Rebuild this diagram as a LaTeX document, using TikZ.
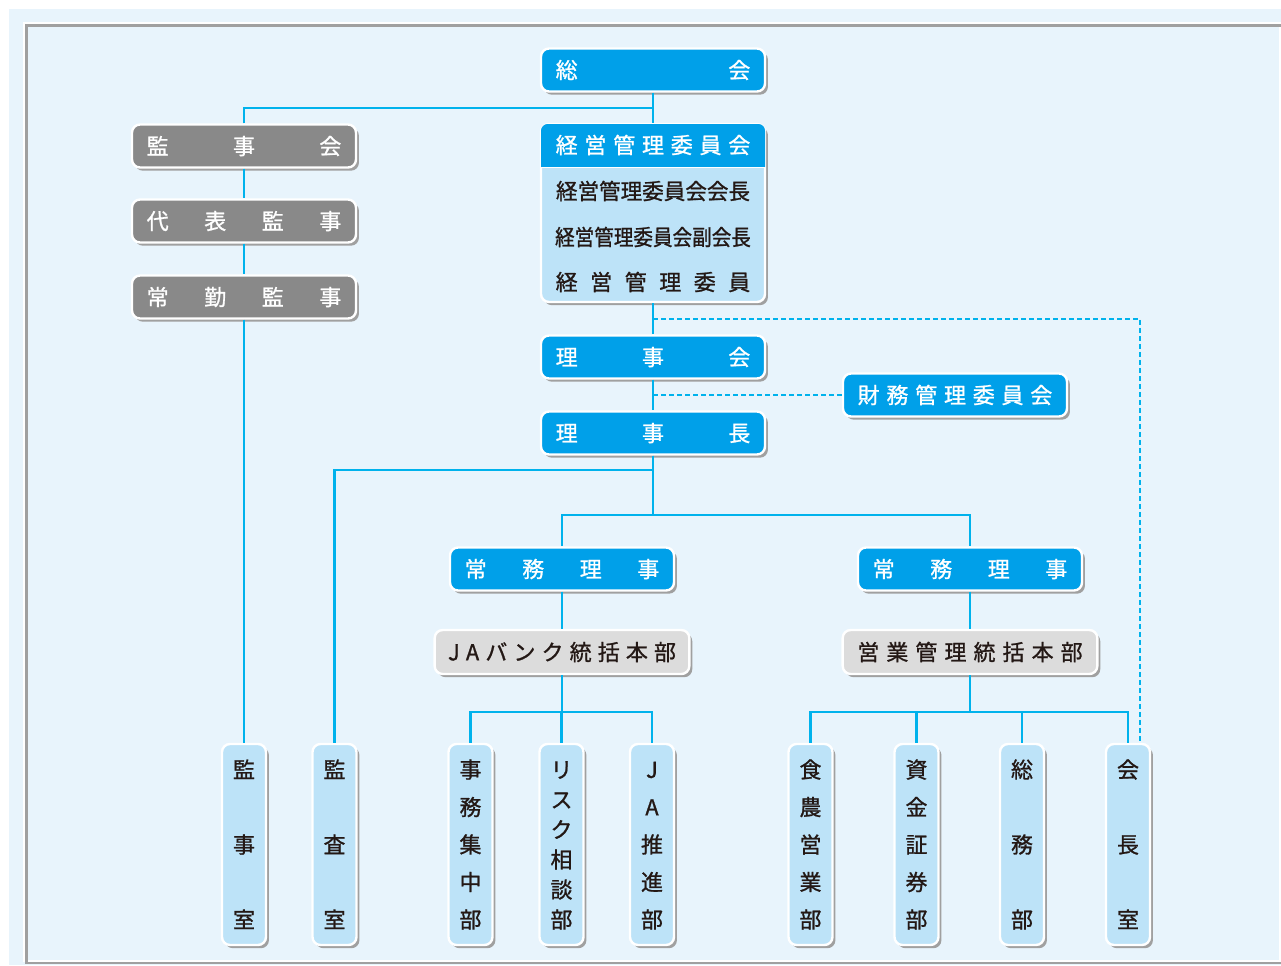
\documentclass[tikz,border=0pt]{standalone}
\usepackage{fontspec}
\usepackage{graphicx}
\usepackage{tikz}
\usetikzlibrary{positioning,calc,shadows}
\newfontfamily\jp[FakeBold=1]{Noto Sans CJK JP}
\definecolor{jblue}{RGB}{0,160,233}
\definecolor{pale}{RGB}{189,227,248}
\definecolor{dgray}{RGB}{137,137,137}
\definecolor{lgray}{RGB}{220,220,220}
\definecolor{bg}{RGB}{232,244,252}
\definecolor{lncol}{RGB}{0,178,236}
\definecolor{shade}{RGB}{160,160,160}
\definecolor{frame}{RGB}{160,160,160}
\definecolor{ink}{RGB}{35,24,21}

% spread / stack helpers
\newcommand{\cjkstrut}{\rule[-0.12em]{0pt}{1em}}
\def\sprloop#1#2{#1\ifx\relax#2\else\hfill\expandafter\sprloop\expandafter#2\fi}
\newcommand{\sprd}[2][146pt]{\hbox to #1{\cjkstrut\sprloop#2\relax}}
\def\vtloop#1#2{\hbox to 1em{\hss\cjkstrut#1\hss}\ifx\relax#2\else\vfill\expandafter\vtloop\expandafter#2\fi}
\newcommand{\vtxt}[1]{\vbox to 127pt{\vtloop#1\relax}}

\begin{document}
\begin{tikzpicture}[x=0.75pt,y=-0.75pt,
  font=\jp\fontsize{16.5}{19}\selectfont,
  bx/.style={draw=white,line width=1.8pt,rounded corners=6pt,inner sep=0pt,
             minimum width=168pt,minimum height=32.25pt,
             drop shadow={shadow xshift=2.2pt,shadow yshift=-2.4pt,fill=shade,opacity=1}},
  bl/.style={bx,fill=jblue,text=white},
  gr/.style={bx,fill=dgray,text=white},
  hq/.style={bx,fill=lgray,text=ink,minimum width=191pt,minimum height=33pt},
  dept/.style={bx,fill=pale,text=ink,minimum width=33pt,minimum height=150.75pt},
  ln/.style={draw=lncol,line width=1.8pt},
  dl/.style={draw=lncol,line width=1.6pt,dash pattern=on 3.6pt off 2.4pt}]

\useasboundingbox (0,0) rectangle (1281,965);
\fill[white] (0,0) rectangle (1281,965);
\fill[bg] (9,9) rectangle (1281,965);
\draw[white,line width=1.5pt] (24,23) rectangle (1280,961);
\draw[frame,line width=1.6pt] (26.5,25.5) rectangle (1284,963);

% top
\node[bl] (sokai) at (653,70) {\sprd{総会}};
\node[bx,fill=pale,minimum height=133.5pt] (kei) at (653,213) {};
\coordinate (kdiv) at (653,167);
\begin{scope}
  \clip[rounded corners=5pt] ([shift={(0.9pt,-0.9pt)}]kei.north west)
    rectangle ([shift={(-0.9pt,0.9pt)}]kei.south east);
  \fill[jblue] (kei.north west) rectangle (kei.east |- kdiv);
\end{scope}
\draw[white,line width=0.6pt] (kei.west |- kdiv) -- (kei.east |- kdiv);
\node[text=white] (keih) at (653,145) {\sprd{経営管理委員会}};
\node[text=ink] (kr1) at (653,191) {\cjkstrut\scalebox{0.98}[1]{経営管理委員会会長}};
\node[text=ink] (kr2) at (653,237) {\cjkstrut\scalebox{0.89}[1]{経営管理委員会副会長}};
\node[text=ink] (kr3) at (653,282) {\sprd{経営管理委員}};

\node[bl] (rijikai) at (653,357) {\sprd{理事会}};
\node[bl] (zaimu) at (955,395) {\sprd{財務管理委員会}};
\node[bl] (richo) at (653,433) {\sprd{理事長}};

% audit side
\node[gr] (kanjikai) at (244,146) {\sprd{監事会}};
\node[gr] (daihyo) at (244,221) {\sprd{代表監事}};
\node[gr] (jokin) at (244,297) {\sprd{常勤監事}};

\node[bl] (jomuA) at (562,569) {\sprd{常務理事}};
\node[bl] (jomuB) at (970,569) {\sprd{常務理事}};
\node[hq] (jabank) at (562,652) {\sprd[171pt]{JAバンク統括本部}};
\node[hq] (eigyo) at (970,652) {\sprd[169pt]{営業管理統括本部}};

% departments
\node[dept] (kanjishitsu) at (244,844.5) {\vtxt{監事室}};
\node[dept] (kansa) at (334.5,844.5) {\vtxt{監査室}};
\node[dept] (jimu) at (470.5,844.5) {\vtxt{事務集中部}};
\node[dept] (risk) at (561.5,844.5) {\vtxt{リスク相談部}};
\node[dept] (suishin) at (652,844.5) {\vtxt{JA推進部}};
\node[dept] (shokuno) at (810.5,844.5) {\vtxt{食農営業部}};
\node[dept] (shikin) at (916.5,844.5) {\vtxt{資金証券部}};
\node[dept] (somu) at (1022,844.5) {\vtxt{総務部}};
\node[dept] (kaicho) at (1128,844.5) {\vtxt{会長室}};

% connectors
\draw[ln] (sokai) -- (kei);
\draw[ln] (kanjikai.north) |- ($(sokai.south)!0.5!(kei.north)$);
\draw[ln] (kanjikai) -- (daihyo);
\draw[ln] (daihyo) -- (jokin);
\draw[ln] (jokin) -- (kanjishitsu);
\draw[ln] (kei) -- (rijikai);
\draw[ln] (rijikai) -- (richo);
\draw[dl] ($(kei.south)!0.5!(rijikai.north)$) -| ($(kaicho.north)+(12,0)$);
\draw[dl] (zaimu.west) -- (zaimu.west -| richo.north);
\draw[ln] (richo.south) -- ++(0,14) -| (kansa.north);
\draw[ln] (richo.south) -- ++(0,59) -| (jomuA.north);
\draw[ln] (richo.south) ++(0,59) -| (jomuB.north);
\draw[ln] (jomuA) -- (jabank);
\draw[ln] (jomuB) -- (eigyo);
\foreach \d in {jimu,risk,suishin}
  \draw[ln] (jabank.south) -- ++(0,37) -| (\d.north);
\foreach \d in {shokuno,shikin,somu,kaicho}
  \draw[ln] (eigyo.south) -- ++(0,37) -| (\d.north);
\end{tikzpicture}
\end{document}
